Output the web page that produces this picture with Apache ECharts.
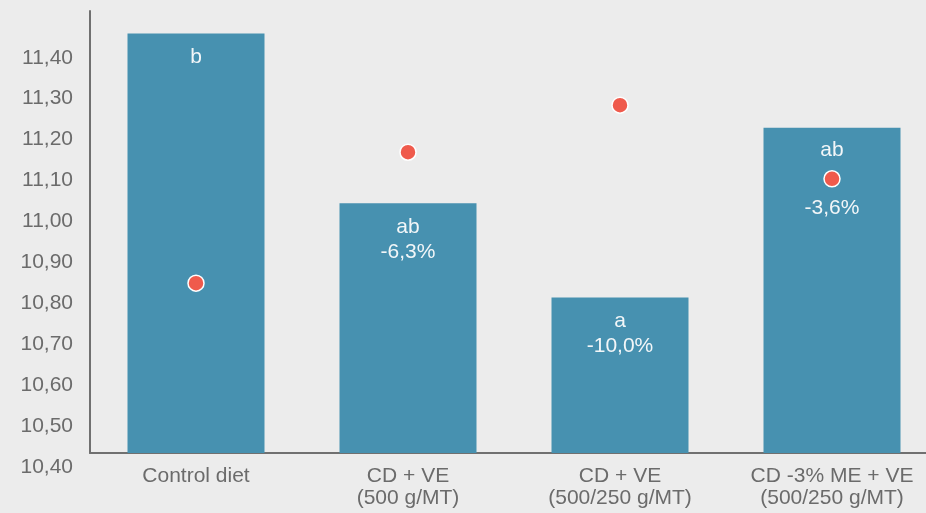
<!DOCTYPE html>
<html>
<head>
<meta charset="utf-8">
<script src="https://cdn.jsdelivr.net/npm/echarts@6/dist/echarts.min.js"></script>
<style>
  html, body { margin: 0; padding: 0; background: #ececec; overflow: hidden; }
  #chart { width: 938px; height: 513px; }
</style>
</head>
<body>
<div id="chart"></div>
<script>
// Diet groups and their measured values
const categories = ['Control diet', 'CD + VE\n(500 g/MT)', 'CD + VE\n(500/250 g/MT)', 'CD -3% ME + VE\n(500/250 g/MT)'];
const barValues = [11.425, 11.01, 10.78, 11.195];
const dotValues = [10.815, 11.135, 11.25, 11.07];
const letters = ['b', 'ab', 'a', 'ab'];
const changes = ['', '-6,3%', '-10,0%', '-3,6%'];
const yMin = 10.4, yMax = 11.48, yStep = 0.1;

const FONT = '"Liberation Sans", Arial, sans-serif';
const axisGray = '#707070';
const textGray = '#6b6b6b';

const barData = barValues.map((v, i) => {
  const gap = i === 3; // last bar leaves room for the marker between its two lines
  const text = changes[i]
    ? (gap ? letters[i] + '\n\n' + changes[i] : letters[i] + '\n' + changes[i])
    : letters[i];
  return {
    value: v,
    label: {
      formatter: text,
      lineHeight: gap ? 29 : 25,
      distance: gap ? 8.5 : 11.5
    }
  };
});

const chart = echarts.init(document.getElementById('chart'));
chart.setOption({
  backgroundColor: '#ececec',
  animation: false,
  grid: { left: 90, right: 0, top: 11, bottom: 60, containLabel: false },
  xAxis: {
    type: 'category',
    data: categories,
    axisLine: { show: true, lineStyle: { color: axisGray, width: 2 } },
    axisTick: { show: false },
    axisLabel: {
      color: textGray, fontFamily: FONT, fontSize: 21, lineHeight: 22,
      margin: 12, interval: 0
    }
  },
  yAxis: {
    type: 'value',
    min: yMin, max: yMax, interval: yStep,
    splitLine: { show: false },
    axisTick: { show: false },
    axisLine: { show: true, lineStyle: { color: axisGray, width: 2 } },
    axisLabel: {
      color: textGray, fontFamily: FONT, fontSize: 21, margin: 17,
      verticalAlign: 'top', lineHeight: 28,
      formatter: v => {
        const k = (v - yMin) / yStep;
        if (Math.abs(k - Math.round(k)) > 1e-6) return '';
        return v.toFixed(2).replace('.', ',');
      }
    }
  },
  series: [
    {
      type: 'bar',
      data: barData,
      barWidth: 137,
      itemStyle: { color: '#4791b0' },
      label: {
        show: true, position: 'insideTop',
        color: '#f2f6f8', fontFamily: FONT, fontSize: 21
      },
      z: 2
    },
    {
      type: 'scatter',
      data: dotValues,
      symbol: 'circle',
      symbolSize: 16,
      itemStyle: { color: '#ef5a4c', opacity: 1, borderColor: '#ffffff', borderWidth: 1.5 },
      z: 5
    }
  ]
});
</script>
</body>
</html>
